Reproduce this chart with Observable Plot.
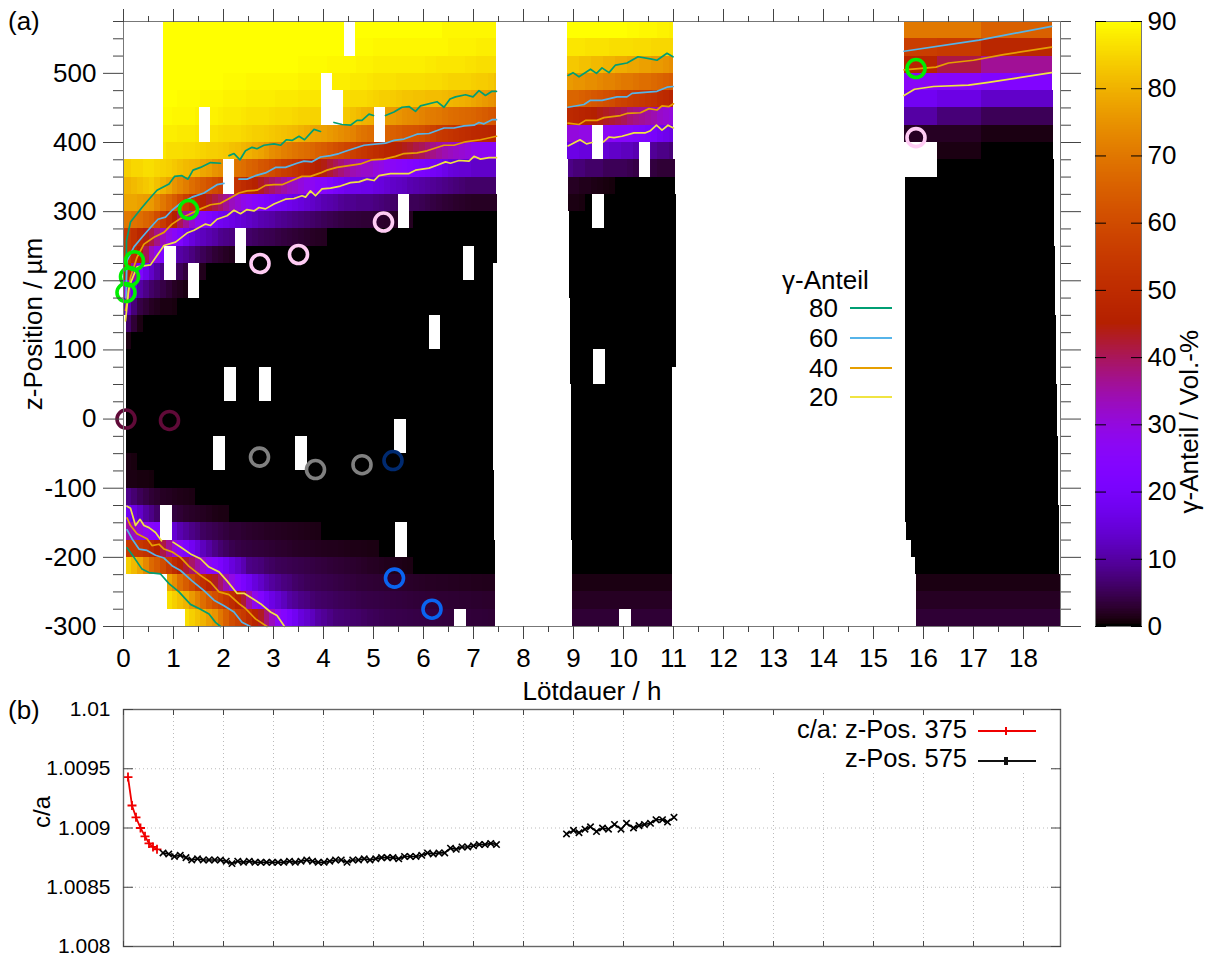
<!DOCTYPE html>
<html><head><meta charset="utf-8">
<style>
html,body{margin:0;padding:0;background:#fff}
#root{position:relative;width:1207px;height:960px;overflow:hidden;font-family:"Liberation Sans",Arial,sans-serif;color:#000}
#root svg{position:absolute;background:transparent;overflow:visible}
.t{position:absolute;white-space:nowrap;line-height:1}
</style>
<script src="https://cdn.jsdelivr.net/npm/d3@7"></script>
<script src="https://cdn.jsdelivr.net/npm/@observablehq/plot@0.6"></script>
</head><body><div id="root"></div>
<script>
const N = null;
// lower edge of every 25 µm row, top to bottom
const rowLow = d3.range(550, -301, -25);

// γ fraction, period 1: one row per z position, one value per scan (missing trailing values = 0)
const seg1Rows = [
/*550*/[N,N,N,N,N,N,90,90,90,90,90,90,90,90,90,90,90,90,90,90,90,90,90,90,90,90,90,90,90,90,90,90,90,90,90,90,90,90,90,90,90,90,90,90,90,90,90,90,90,90,90,90,90,90,90,89,89,89,89,89,89,89,89,89,89],
/*525*/[N,N,N,N,N,N,90,90,90,90,90,90,90,90,90,90,90,90,90,90,90,90,90,90,90,90,90,90,90,90,90,90,90,90,90,90,90,90,90,90,89.5,89.5,89.5,89,89,89,89,89,89,89,89,89,89,89,89,89,88.5,88.5,88.5,88.5,88.5,88,88,88,88],
/*500*/[N,N,N,N,N,N,90,90,90,90,90,90,90,90,90,90,90,90,90,90,90,90,90,90,90,90,90,90,90,90,89.5,89.5,89.5,89.5,89.5,89,89,89,89,89,88.5,88.5,88.5,88,88,88,88,88,88,88,88,88,87.5,87.5,87,87,87,87,87,86.5,86.5,86,86,86,86],
/*475*/[N,N,N,N,N,N,90,90,90,90,90,90,90,90,90,90,90,89.5,89.5,89.5,89.5,89,89,89,89,89,89,89,89,89,88.5,88.5,88.5,88.5,88.5,88,88,88,88,87.5,87.5,87.5,87,86.5,86.5,86.5,86.5,86,86,86,86,86,85.5,85.5,85.5,85,84.5,84.5,84.5,84.5,84,83.5,83.5,83,82],
/*450*/[N,N,N,N,N,N,90,90,90,89.5,89.5,89.5,89.5,89,89,89,89,88.5,88.5,88.5,88.5,88,88,88,88,88,87.5,87.5,87.5,87.5,87,87,87,87,87,86.5,86.5,86.5,86,85.5,85.5,85.5,85,84.5,84,84,83.5,83,82.5,82.5,82,82,81.5,81.5,81.5,81,80.5,80,79.5,79,78,77,76,75,74],
/*425*/[N,N,N,N,N,N,89.5,89.5,89,89,89,89,88.5,88.5,88.5,88.5,88,87.5,87.5,87.5,87,86.5,86.5,86.5,86.5,86,85.5,85.5,85.5,85,84.5,84.5,84.5,84.5,84,83.5,83.5,83.5,83,82,81,80,79.5,78,77,76.5,76,75,74,73.5,73,72,71,70.5,70,69,68,67.5,67,66.5,66,65,64,63,62],
/*400*/[N,N,N,N,N,N,88,88,88,87.5,87.5,87.5,87,86.5,86.5,86.5,86,85.5,85.5,85.5,85,84.5,84,84,83.5,83,82.5,82,81.5,81,80,79,78,77.5,77,76,75,74,73,72,70,69,68,67,66,65.5,65,64,63,62.5,62,61,59,57,55,54,53,52,51,50,49,48.5,48,47.5,47],
/*375*/[N,N,N,N,N,N,87,86,86,86,85.5,85.5,85,84.5,84,84,83.5,83,82,81.5,80.5,79.5,78.5,77.5,76,74,73,71.5,70.5,69.5,68.5,67.5,66.5,65,64,62.5,61,59.5,58,56.5,55,53.5,52,50.5,49,47.5,46,44.5,43.5,42.5,41,40,38.5,37,35.5,34,33,32,31,30,28,27.5,27,26.5,26],
/*350*/[84,85,85,86,86,85,84.5,84,83,82,81,80.5,80,78,77,75,74,72,71,69,68,66,65,63,62,60,58,56,55,53,51,49,47,45,44,42,40,38,36,34,33,32,32,30,29,27,26,25,24,23,22,21,20,19,18,16.5,15,14.5,14,14,13,13,13,13,13],
/*325*/[80,81,82,83,84,82,80,78,75,73,71,68,66,64,62,60,58,56,54,52,50,48,46,43,41,39,37,35,33,32,30,28,27,25,24,22,20,19,17.5,17,17,16.5,16.5,15.5,15,14,13,12.5,12,11,10.5,10,9.5,9,8.5,8,7.5,7,6.5,6,6,6,6,6,6],
/*300*/[78,78,77,76.5,76,73,70,67,64,60,56,52,48,46,43,41,39,36,33,31,28.5,27,25,23,21.5,20,19,18,17,16,15,14,13,12,11,10.5,10,9,8.5,8.5,8,8,8,7.5,7,6.5,6,5.6,5.3,5,5,4.7,4.2,3.8,3.4,3,2.8,2.5,2.3,2.1,2,2,2,2,2],
/*275*/[70,69,68,66,64.5,60,55,50,45,40,36,31,27,24,22,20,18,17,16,15,14,13,12,11,10.5,10,9,8.5,8,7.5,7,6.5,6,5.5,5,4.6,4.2,3.8,3.5,3.3,3.2,3,3,2.7,2.5,2.3,2.1,2,1.9,1.8],
/*250*/[55,52,48,44,41,37,33,29,26,22,18,15,13,12,11,10,8.5,8,7.5,7,6.5,6,5.5,5,4.7,4.5,4,3.6,3.3,3,2.7,2.4,2.1,1.9,1.8],
/*225*/[55,50,45,40,33,28,22,17,12.5,10,9,7.5,6,5,4,3,2.5,2,1.5,1],
/*200*/[50,35,22,17,13,10,8,7,6,5,3.5,3,2,1.5],
/*175*/[32,15,10,8,6,5,4,3,2,1.5,1,1],
/*150*/[12,7,4,3,2,1.5,1,1,.8],
/*125*/[6,3,1],
/*100*/[1],
/* 75*/[],/* 50*/[],/* 25*/[],/*  0*/[],/*-25*/[],/*-50*/[],
/*-75*/[1,.8],
/*-100*/[1,1,.8,.8,.6],
/*-125*/[8,6.5,5,4,3,2.5,2,1.8,1.5,1.3,1.2,1],
/*-150*/[18,16,13,10,8,6,5,4,3.5,3,2.5,2.2,2,1.8,1.5,1.2,1,1],
/*-175*/[35,33,30,27,25,23,21,19,14,11,9.5,8,7,5.5,5,4.5,4,3.5,3,3,2.7,2.5,2.3,2.2,2,1.9,1.8,1.7,1.6,1.5,1.4,1.3,1.2,1.1],
/*-200*/[55,55,54,52,49,45,41,36,30,26,22,18,15,12,10,8,6.5,5.5,4.5,4,3.7,3.5,3.3,3.2,3,2.8,2.6,2.5,2.3,2.1,2,1.9,1.8,1.7,1.6,1.5,1.5,1.4,1.3,1.2,1.2,1.1,1,1],
/*-225*/[84,81,78,73,67,64,60,55,50,46,42,39,35,31,26,24,21,18,15,13,11,8,7.5,7,6,5.5,5,4.8,4.6,4.4,4.2,4,3.8,3.6,3.4,3.2,3,2.9,2.7,2.6,2.4,2.2,2,1.9,1.7,1.5,1.4,1.3,1.1,1],
/*-250*/[N,N,N,N,N,N,N,78,74,68,64,60,55,51,47,43,39,34,29,24,21,18,15,13,11,9.5,8.5,7.5,7,6,5.5,5,4.8,4.6,4.4,4.2,4,3.8,3.6,3.4,3.2,3.1,3,2.9,2.8,2.7,2.6,2.5,2.4,2.3,2.2,2.1,2,2,1.9,1.9,1.8,1.8,1.7,1.7,1.6,1.6,1.5,1.5,1.5],
/*-275*/[N,N,N,N,N,N,N,86,84,82,80,76,72,68,64,61,58,54,50,46,42,35,28,23,19,16,14,12,10,9,8,7.5,6.5,6,5.8,5.5,5.2,5,4.8,4.5,4.3,4.1,4,3.9,3.8,3.7,3.6,3.5,3.4,3.3,3.2,3.1,3,3,2.9,2.9,2.8,2.8,2.7,2.7,2.6,2.6,2.5,2.5,2.5],
/*-300*/[N,N,N,N,N,N,N,N,N,N,86,84,82,80,77,75,70,65,60,57,55,51,47,43,38,33,27,24,21,18,15,13.5,12,10,9,8,7,6.8,6.5,6.2,6,5.6,5.2,5,4.7,4.5,4.4,4.3,4.2,4.1,4,3.9,3.8,3.7,3.6,3.5,3.4,3.4,3.3,3.3,3.2,3.2,3.1,3,3]
];
const seg1Start = [.79,.79,.79,.79,.79,.79,.79,.79,.01,.01,.01,.01,.01,.01,.01,.01,.01,.05,.05,.05,.05,.05,.05,.05,.05,.05,.05,.05,.05,.05,.05,.05,.87,.87,1.24];
const seg1End = [7.46,7.46,7.46,7.46,7.46,7.46,7.46,7.46,7.46,7.46,7.47,7.48,7.48,7.48,7.39,7.39,7.39,7.39,7.39,7.39,7.39,7.39,7.39,7.4,7.4,7.4,7.41,7.41,7.42,7.42,7.43,7.43,7.44,7.44,7.44];

// period 2
const seg2Rows = [
/*550*/[90,90,90,90,90,90,90,90,90,90,89.5,89.5,89,89,89,88.5,88.5,88],
/*525*/[87,87,87,86.5,86.5,86.5,86.5,86,86,86,86,85.5,85.5,85.5,85,85,85,85],
/*500*/[83,83,82,82,81,81,80,80,79,79,78,78,77,77,76,76,75,74],
/*475*/[76,75,75,74,74,73,72,72,71,70,70,69,68,68,67,66,65,64],
/*450*/[66,66,65,64,63,62,61,60,58,57,56,55,54,53,52,50,49,47],
/*425*/[49,48,47,46,45,44,43,42,41,40,38,37,36,35,34,32,31,30],
/*400*/[30,30,29,29,28,27,27,26,25,25,24,23,22,21,20,18,17,16],
/*375*/[16,16,15,15,14,14,14,13,13,12,12,11,11,10,9,8,8,7],
/*350*/[8,7,7,6,6,6,5,5,5,5,4.5,4,4,4,3.5,3,3,3],
/*325*/[2,2,1.5,1.5,1.2,1,.8,.6],
/*300*/[1,1,.8],
/*275..175*/[],[],[],[],[],
/*150..50*/[],[],[],[],[],
/*25..-75*/[],[],[],[],[],
/*-100..-200*/[],[],[],[],[],
/*-225*/[],
/*-250*/[1,1,1,1,1,1,1,1,1,1,1,1,1,1,1,1,1,1],
/*-275*/[2,2,2,2,2,2,2,2,2,2,2,2,2,2,2,2,2,2],
/*-300*/[3,3,3,3,3,3,3,3,3,3,3,3,3,3,3,3,3,3]
];
const seg2Start = [8.87,8.87,8.87,8.87,8.87,8.87,8.87,8.88,8.89,8.9,8.9,8.91,8.91,8.91,8.92,8.92,8.93,8.93,8.94,8.94,8.94,8.95,8.95,8.95,8.95,8.96,8.96,8.96,8.96,8.96,8.97,8.97,8.97,8.97,8.97];
const seg2End = [11,11,11,11,11,11,11,11,11.04,11.04,11.05,11.05,11.05,11.06,11.06,11.06,11.06,11.06,11.06,11.06,10.97,10.97,10.97,10.97,10.97,10.97,10.97,10.97,10.97,10.97,10.97,10.97,10.97,10.97,10.97];

// period 3: sparse scans
const seg3Rows = [
/*550*/[70,70,65],
/*525*/[56,55,48],
/*500*/[47,41,36],
/*475*/[26,25,23],
/*450*/[18,16,13],
/*425*/[10,7,5],
/*400*/[2,2,1],
/*375*/[0,1,0],
/*350..250*/[],[],[],[],[],
/*225..125*/[],[],[],[],[],
/*100..0*/[],[],[],[],[],
/*-25..-125*/[],[],[],[],[],
/*-150..-225*/[],[],[],[],
/*-250*/[1,1,1],
/*-275*/[2,2,2],
/*-300*/[3,3,3]
];
const seg3Edges = [15.61,16.28,17.15,18.8];
const seg3Start = [15.61,15.61,15.61,15.61,15.61,15.61,15.61,15.62,15.63,15.63,15.63,15.63,15.63,15.63,15.63,15.63,15.63,15.64,15.64,15.64,15.64,15.64,15.64,15.64,15.64,15.64,15.64,15.64,15.64,15.66,15.76,15.84,15.86,15.86,15.86];
const seg3End = [18.57,18.57,18.58,18.58,18.59,18.59,18.6,18.6,18.61,18.61,18.62,18.62,18.62,18.63,18.63,18.64,18.64,18.65,18.65,18.66,18.66,18.67,18.67,18.68,18.69,18.69,18.7,18.7,18.71,18.71,18.72,18.72,18.74,18.74,18.74];

// missing measurement points
const holeStart = [4.41,3.95,4.17,5.01,1.51,1.99,5.49,2.23,.82,1.29,6.79,6.11,2.02,2.72,1.8,3.44,5.42,5.44,.74,6.62,9.37,10.31,9.38,9.4,9.92,15.55];
const holeEnd   = [4.64,4.18,4.4,5.24,1.74,2.22,5.72,2.46,1.05,1.52,7.02,6.34,2.25,2.95,2.03,3.67,5.65,5.67,.97,6.85,9.6,10.54,9.61,9.63,10.15,16.28];
const holeLow   = [525,425,425,400,400,325,275,225,200,175,200,100,25,25,-75,-75,-50,-200,-175,-300,375,350,275,50,-300,350];
const holeHigh  = [575,500,475,450,450,375,325,275,250,225,250,150,75,75,-25,-25,0,-150,-125,-275,425,400,325,100,-275,400];

// contour lines [time, z]
const top80 = [[.05,190],[.06,258],[.14,285],[.37,306],[.51,318],[.67,331],[.91,340],[1.02,351],[1.17,352],[1.29,347],[1.39,360],[1.54,364],[1.74,371],[1.94,370],[N,N],[2.11,381],[2.21,384],[2.33,375],[2.44,388],[2.57,393],[2.67,391],[2.81,396],[3.01,398],[3.14,396],[3.26,404],[3.37,403],[3.51,409],[3.62,404],[3.81,419],[3.94,416],[N,N],[4.21,429],[4.37,426],[4.54,425],[4.67,432],[4.77,432],[4.91,441],[5.0,439],[N,N],[5.24,439],[5.41,444],[5.57,451],[5.71,452],[5.84,445],[5.94,453],[6.27,459],[6.41,451],[6.53,463],[6.64,466],[6.84,469],[6.99,466],[7.11,475],[7.24,468],[7.37,474],[7.46,474]];
const top60 = [[.05,175],[.07,229],[.21,249],[.37,263],[.54,277],[.69,289],[.84,292],[.97,302],[1.14,312],[1.37,321],[1.61,327],[1.87,339],[2.01,341],[N,N],[2.31,347],[2.47,347],[2.64,352],[2.84,356],[3.04,364],[3.24,364],[3.47,370],[3.61,373],[3.77,372],[3.94,379],[4.14,381],[4.31,384],[4.47,388],[4.81,396],[5.24,399],[5.41,403],[5.61,405],[5.87,412],[6.11,413],[6.41,421],[6.61,421],[6.81,424],[7.01,425],[7.11,429],[7.21,427],[7.37,433],[7.46,433]];
const top40 = [[.04,157],[.14,205],[.27,234],[.41,253],[.61,263],[.81,270],[.97,282],[1.14,290],[1.34,297],[1.54,304],[1.74,310],[1.94,312],[2.14,320],[2.31,327],[2.47,330],[2.67,331],[2.84,338],[3.01,339],[3.17,339],[3.37,345],[3.57,351],[3.74,351],[3.94,356],[4.07,360],[4.27,364],[4.54,367],[4.74,369],[4.97,375],[5.21,376],[5.44,380],[5.61,384],[5.87,385],[6.07,388],[6.41,396],[6.61,396],[6.84,401],[7.14,404],[7.46,409]];
const top20 = [[.04,142],[.11,191],[.27,220],[.54,223],[.81,251],[1.04,256],[1.27,269],[1.41,273],[1.64,282],[1.74,280],[1.87,289],[2.07,294],[2.21,302],[2.34,297],[2.47,303],[2.61,301],[2.71,306],[2.84,304],[3.01,311],[3.24,318],[3.41,319],[3.57,323],[3.64,321],[3.74,330],[3.84,323],[3.97,333],[4.14,334],[4.34,337],[4.54,342],[4.71,343],[4.87,347],[5.01,345],[5.11,352],[5.34,355],[5.71,355],[5.84,360],[6.11,363],[6.27,367],[6.44,372],[6.54,370],[6.71,374],[6.91,373],[7.01,380],[7.14,376],[7.31,378],[7.46,378]];
const low20 = [[.07,-126],[.14,-129],[.24,-154],[.33,-145],[.41,-154],[.51,-157],[.64,-164],[.76,-176],[N,N],[.99,-178],[1.14,-185],[1.34,-195],[1.54,-202],[1.71,-214],[1.91,-221],[2.07,-234],[2.27,-252],[2.41,-252],[2.74,-267],[2.94,-279],[3.07,-284],[3.22,-300]];
const low40 = [[.07,-143],[.14,-154],[.27,-166],[.47,-173],[.57,-183],[.71,-181],[.81,-188],[.97,-192],[1.14,-200],[1.31,-213],[1.54,-226],[1.74,-236],[1.91,-250],[2.11,-254],[2.31,-267],[2.44,-274],[2.64,-289],[2.87,-300]];
const low60 = [[.07,-160],[.17,-173],[.31,-188],[.47,-190],[.64,-197],[.81,-201],[.97,-212],[1.14,-219],[1.37,-234],[1.61,-248],[1.81,-262],[2.01,-270],[2.21,-279],[2.37,-294],[2.54,-300]];
const low80 = [[.07,-186],[.21,-200],[.37,-217],[.51,-222],[.74,-224],[.91,-238],[1.11,-250],[1.34,-268],[1.54,-275],[1.71,-282],[1.84,-294],[1.94,-300]];
const mid80 = [[8.89,497],[8.99,501],[9.11,495],[9.34,506],[9.46,500],[9.57,508],[9.71,501],[9.84,512],[10.07,515],[10.29,524],[10.54,521],[10.67,519],[10.87,529],[10.99,524]];
const mid60 = [[8.89,451],[9.21,455],[9.34,461],[9.57,461],[9.87,466],[10.07,466],[10.17,471],[10.67,474],[10.87,480],[10.99,481]];
const mid40 = [[8.89,428],[9.11,426],[9.24,432],[9.47,432],[9.61,436],[9.94,439],[10.07,442],[10.34,443],[10.51,449],[10.67,447],[10.77,453],[10.91,452],[11,456]];
const mid20 = [[8.89,395],[9.13,404],[9.26,398],[9.37,400],[N,N],[9.6,401],[9.71,408],[9.81,407],[9.97,409],[10.21,414],[10.44,414],[10.54,417],[10.66,425],[10.77,418],[10.89,425],[11,421]];
const end60 = [[15.61,532],[17.11,548],[18.56,568]];
const end40 = [[15.61,505],[16.25,509],[16.5,515],[17.0,519],[17.6,527],[18.56,538]];
const end20 = [[15.61,468],[15.82,477],[16.2,481],[16.9,483],[17.3,487],[18.56,501]];

// marked positions
const greenDots = [[.05,183],[.12,206],[.22,229],[1.3,303],[15.85,507]];
const pinkDots = [[2.73,225],[3.5,238],[5.2,285],[15.85,407]];
const maroonDots = [[.05,0],[.92,-2]];
const grayDots = [[2.72,-55],[3.84,-73],[4.77,-66]];
const navyDots = [[5.39,-60]];
const blueDots = [[5.42,-230],[6.17,-275]];

// tetragonality
const caRedT = [.09,.17,.25,.34,.43,.51,.59,.67];
const caRedV = [1.00943,1.00919,1.00909,1.009,1.00893,1.00887,1.00884,1.00882];
const caBlackT1 = [.79,.905,1.02,1.135,1.25,1.365,1.48,1.595,1.71,1.825,1.94,2.055,2.17,2.285,2.4,2.515,2.63,2.745,2.86,2.975,3.09,3.205,3.32,3.435,3.55,3.665,3.78,3.895,4.01,4.125,4.24,4.355,4.47,4.585,4.7,4.815,4.93,5.045,5.16,5.275,5.39,5.505,5.62,5.735,5.85,5.965,6.08,6.195,6.31,6.425,6.54,6.655,6.77,6.885,7,7.115,7.23,7.345,7.46];
const caBlackV1 = [1.00879,1.00878,1.00876,1.00877,1.00875,1.00873,1.00874,1.00873,1.00873,1.00873,1.00873,1.00872,1.0087,1.00872,1.00871,1.00872,1.00871,1.00871,1.00871,1.00871,1.00871,1.00871,1.00872,1.00871,1.00872,1.00873,1.00872,1.00871,1.00871,1.00872,1.00873,1.00873,1.00871,1.00873,1.00873,1.00874,1.00873,1.00874,1.00875,1.00875,1.00875,1.00874,1.00876,1.00876,1.00876,1.00877,1.00879,1.00878,1.00879,1.00879,1.00883,1.00882,1.00884,1.00884,1.00885,1.00886,1.00886,1.00887,1.00886];
const caBlackT2 = [8.86,9,9.11,9.23,9.34,9.46,9.58,9.7,9.82,9.95,10.06,10.2,10.31,10.42,10.54,10.65,10.78,10.88,11.01];
const caBlackV2 = [1.00895,1.00898,1.00896,1.00899,1.00901,1.00897,1.009,1.00899,1.00903,1.00899,1.00904,1.009,1.00902,1.00903,1.00904,1.00907,1.00907,1.00905,1.00909];

const hourTicks = d3.range(0,19);
const halfTicks = d3.range(0,19).map(h=>h+.5).filter(h=>h<18.74);
const zMajor = d3.range(-300,501,100);
const zMinor = d3.range(-300,576,25).filter(z=>z%100!==0);
const caTicks = [1.008,1.0085,1.009,1.0095,1.01];
const barTicks = d3.range(0,91,10);
const legendValues = [80,60,40,20];
const lineColors = {80:"#009e73",60:"#56b4e9",40:"#e69f00",20:"#f0e442"};

// gnuplot's rgbformulae 7,5,15
const ramp = t => `rgb(${Math.round(255*Math.sqrt(t))},${Math.round(255*t*t*t)},${Math.round(255*Math.max(0,Math.sin(2*Math.PI*t)))})`;
const colorScale = {type:"linear",domain:[0,90],interpolate:ramp};

function cells(rows,edges,starts,ends){
  const out=[];
  rows.forEach((row,i)=>{
    const n=edges.length-1;
    for(let k=0;k<n;k++){
      const raw=row[k];
      if(raw===null) continue;
      const v=raw===undefined?0:raw;
      const x1=(k===0||row[k-1]===null)?starts[i]:edges[k];
      const x2=k===n-1?ends[i]:Math.min(edges[k+1],ends[i]);
      if(x1<x2) out.push({x1,x2,y1:rowLow[i],y2:rowLow[i]+25,v});
    }
  });
  return out;
}
const seg1Edges = d3.range(66).map(k=>.05+k*.115);
const seg2Edges = d3.range(19).map(k=>8.87+k*.12);
const heat = [...cells(seg1Rows,seg1Edges,seg1Start,seg1End),...cells(seg2Rows,seg2Edges,seg2Start,seg2End),...cells(seg3Rows,seg3Edges,seg3Start,seg3End)];

const contour = (arr,v)=>Plot.line(arr,{x:d=>d[0],y:d=>d[1],stroke:lineColors[v],strokeWidth:1.7,curve:"linear"});
const rings = (arr,c)=>Plot.dot(arr,{x:d=>d[0],y:d=>d[1],r:9,fill:"none",stroke:c,strokeWidth:3.6});
const FS=26, TC="#444";
// tick-only axis: fill "none" drops the labels
const ticksOnly = {fill:"none",stroke:TC,label:null};

const xDomain=[0,18.74];
const panelA = Plot.plot({
  width:1207,height:704,marginLeft:123,marginRight:147,marginTop:21,marginBottom:78,
  style:{fontFamily:"'Liberation Sans',Arial,sans-serif",left:"0",top:"0",fontSize:"26px"},
  x:{domain:xDomain,axis:null},y:{domain:[-300,575],axis:null},color:colorScale,
  marks:[
    Plot.rect(heat,{x1:"x1",x2:"x2",y1:"y1",y2:"y2",fill:"v",shapeRendering:"crispEdges"}),
    Plot.rect(holeStart,{x1:(d,i)=>holeStart[i],x2:(d,i)=>holeEnd[i],y1:(d,i)=>holeLow[i],y2:(d,i)=>holeHigh[i],fill:"white",shapeRendering:"crispEdges"}),
    contour(top80,80),contour(top60,60),contour(top40,40),contour(top20,20),
    contour(low80,80),contour(low60,60),contour(low40,40),contour(low20,20),
    contour(mid80,80),contour(mid60,60),contour(mid40,40),contour(mid20,20),
    contour(end60,60),contour(end40,40),contour(end20,20),
    rings(greenDots,"#00ee00"),rings(pinkDots,"#ffccf4"),rings(maroonDots,"#600a38"),
    rings(grayDots,"#808080"),rings(navyDots,"#002a70"),rings(blueDots,"#0a64f0"),
    Plot.frame({stroke:"#777"}),
    Plot.axisX({anchor:"bottom",ticks:hourTicks,tickSize:13,tickPadding:9,fontSize:FS,stroke:TC,fill:"#000",tickFormat:d=>String(d),label:"Lötdauer / h",labelAnchor:"center",labelArrow:"none",labelOffset:73}),
    Plot.axisX({anchor:"bottom",ticks:halfTicks,tickSize:6,...ticksOnly}),
    Plot.axisX({anchor:"top",ticks:hourTicks,tickSize:13,...ticksOnly}),
    Plot.axisX({anchor:"top",ticks:halfTicks,tickSize:6,...ticksOnly}),
    Plot.axisY({anchor:"left",ticks:zMajor,tickSize:20,tickPadding:7,fontSize:FS,stroke:TC,fill:"#000",tickFormat:d=>String(d),label:"z-Position / µm",labelAnchor:"center",labelArrow:"none",labelOffset:100}),
    Plot.axisY({anchor:"left",ticks:zMinor,tickSize:10,...ticksOnly}),
    Plot.axisY({anchor:"right",ticks:zMajor,tickSize:20,...ticksOnly}),
    Plot.axisY({anchor:"right",ticks:zMinor,tickSize:10,...ticksOnly})
  ]
});

const barCells = d3.range(0,90,.25);
const colorBar = Plot.plot({
  width:127,height:690,marginLeft:15,marginRight:66,marginTop:21,marginBottom:64,
  style:{fontFamily:"'Liberation Sans',Arial,sans-serif",left:"1080px",top:"0",fontSize:"26px"},
  x:{domain:[0,1],axis:null},y:{domain:[0,90],axis:null},color:colorScale,
  marks:[
    Plot.rect(barCells,{x1:()=>0,x2:()=>1,y1:d=>d,y2:d=>d+.25,fill:d=>d,shapeRendering:"crispEdges"}),
    Plot.frame({stroke:"#777"}),
    Plot.axisY({anchor:"left",ticks:barTicks,tickSize:-11,fill:"none",stroke:"#000",label:null}),
    Plot.axisY({anchor:"right",ticks:barTicks,tickSize:-11,fill:"none",stroke:"#000",label:null}),
    Plot.axisY({anchor:"right",ticks:barTicks,tickSize:0,tickPadding:6,fontSize:FS,fill:"#000",label:null}),
    Plot.text(["γ-Anteil / Vol.-%"],{frameAnchor:"right",dx:48,dy:6,rotate:-90,fontSize:FS,fill:"#000"})
  ]
});

const series = (t,v,c,sym,w)=>[
  Plot.line(t.map((d,i)=>[d,v[i]]),{x:d=>d[0],y:d=>d[1],stroke:c,strokeWidth:w}),
  Plot.dot(t.map((d,i)=>[d,v[i]]),{x:d=>d[0],y:d=>d[1],symbol:sym,r:3,stroke:c,strokeWidth:w,fill:"none"})
];
const panelB = Plot.plot({
  width:1207,height:270,marginLeft:123,marginRight:147,marginTop:19,marginBottom:14,
  style:{fontFamily:"'Liberation Sans',Arial,sans-serif",left:"0",top:"690px",fontSize:"21px"},
  x:{domain:xDomain,axis:null},y:{domain:[1.008,1.01],axis:null},
  marks:[
    Plot.ruleX(hourTicks,{stroke:"#bbb",strokeDasharray:"1,3"}),
    Plot.ruleY(caTicks,{stroke:"#bbb",strokeDasharray:"1,3"}),
    ...series(caRedT,caRedV,"#f00000","plus",1.8),
    ...series(caBlackT1,caBlackV1,"#000","times",1.6),
    ...series(caBlackT2,caBlackV2,"#000","times",1.6),
    Plot.frame({stroke:"#666",strokeWidth:1.4}),
    Plot.axisX({anchor:"bottom",ticks:hourTicks,tickSize:-5,...ticksOnly}),
    Plot.axisX({anchor:"top",ticks:hourTicks,tickSize:-5,...ticksOnly}),
    Plot.axisY({anchor:"left",ticks:caTicks,tickSize:-10,...ticksOnly}),
    Plot.axisY({anchor:"right",ticks:caTicks,tickSize:-10,...ticksOnly}),
    Plot.axisY({anchor:"left",ticks:caTicks,tickSize:0,tickPadding:13,fontSize:21,fill:"#000",tickFormat:d=>String(+d.toFixed(4)),label:null}),
    Plot.text(["c/a"],{frameAnchor:"left",dx:-81,rotate:-90,fontSize:24,fill:"#000"})
  ]
});

const root=document.getElementById("root");
root.append(panelA,colorBar,panelB);
function txt(s,opt){
  const d=document.createElement("div");d.className="t";d.textContent=s;
  d.style.fontSize=(opt.size||FS)+"px";
  if(opt.right!==undefined)d.style.right=(1207-opt.right)+"px"; else d.style.left=opt.left+"px";
  d.style.top=opt.top+"px";root.append(d);return d;
}
function box(left,top,w,h,c){
  const d=document.createElement("div");d.style.cssText=`position:absolute;left:${left}px;top:${top}px;width:${w}px;height:${h}px;background:${c}`;root.append(d);return d;
}
txt("(a)",{left:8,top:8,size:26});
txt("(b)",{left:8,top:697,size:26});
// legend of panel a
txt("γ-Anteil",{left:782,top:267});
legendValues.forEach((v,i)=>{
  const y=[308,338,368,397][i];
  txt(String(v),{right:838,top:y-13});
  box(850,y-1,42,1.6,lineColors[v]);
});
// legend of panel b
box(762,715,289,55,"#fff");
txt("c/a: z-Pos. 375",{right:967,top:717,size:25.5});
txt("z-Pos. 575",{right:967,top:746,size:25.5});
box(978,730,58,2,"#f00000");box(1005,727,2,8,"#f00000");
box(978,760,58,2,"#111");box(1004,757,4,8,"#111");
</script></body></html>
